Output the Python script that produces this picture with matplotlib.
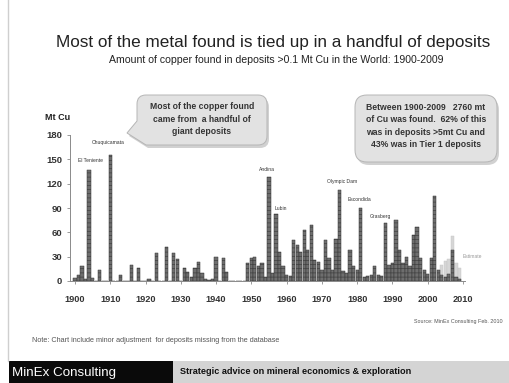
import matplotlib
matplotlib.use("Agg")
import matplotlib.pyplot as plt
import numpy as np
from matplotlib.patches import PathPatch, Rectangle
from matplotlib.path import Path
from matplotlib.transforms import Affine2D

plt.rcParams['font.family'] = ['Liberation Sans', 'DejaVu Sans']
plt.rcParams['hatch.linewidth'] = 0.4

# copper found per year, Mt Cu, 1900-2009
years = np.arange(1900, 2010)
copper_mt = [
    4, 7, 18, 3, 137, 4, 0, 13, 0, 0,          # 1900s
    155, 0, 0, 7, 0, 0, 20, 0, 16, 0,          # 1910s
    0, 3, 0, 34, 0, 0, 42, 0, 34, 27,          # 1920s
    0, 16, 11, 5, 16, 23, 10, 2, 1, 2,         # 1930s
    29, 0, 28, 11, 0, 0, 0, 0, 0, 22,          # 1940s
    28, 30, 18, 22, 5, 128, 10, 83, 36, 18,    # 1950s
    8, 6, 50, 44, 36, 63, 38, 69, 26, 24,      # 1960s
    13, 50, 28, 13, 52, 112, 12, 10, 38, 18,   # 1970s
    14, 90, 5, 6, 8, 18, 8, 6, 71, 20,         # 1980s
    22, 75, 38, 22, 30, 18, 57, 67, 28, 14,    # 1990s
    9, 28, 105, 14, 7, 5, 9, 38, 5, 2,         # 2000s
]
# estimated totals for recent years (light bars)
estimate_years = [2004, 2005, 2006, 2007, 2008, 2009]
estimate_mt = [20, 25, 27, 55, 22, 16]

# named deposits: label, year, label height
deposit_names = ['Chuquicamata', 'El Teniente', 'Andina', 'Lubin',
                 'Olympic Dam', 'Escondida', 'Grasberg']
deposit_x = [1909.4, 1904.5, 1954.4, 1958.3, 1975.6, 1980.8, 1986.6]
deposit_y = [171, 148, 138, 90, 123, 100, 79]

title = 'Most of the metal found is tied up in a handful of deposits'
subtitle = 'Amount of copper found in deposits >0.1 Mt Cu in the World: 1900-2009'
note1 = 'Most of the copper found\ncame from  a handful of\ngiant deposits'
note2 = ('Between 1900-2009   2760 mt\nof Cu was found.  62% of this\n'
         'was in deposits >5mt Cu and\n43% was in Tier 1 deposits')

W, H = 510, 383
fig = plt.figure(figsize=(W / 100, H / 100), dpi=100)
fig.patch.set_facecolor('white')

# chart axes
ax = fig.add_axes([70 / W, (H - 281) / H, (465 - 70) / W, 146 / H])
ax.set_facecolor('none')
ax.bar(estimate_years, estimate_mt, width=0.95, color='#d6d6d6', edgecolor='#c4c4c4',
       linewidth=0.3, zorder=1)
ax.bar(years, copper_mt, width=0.92, color='#6e6e6e', edgecolor='#353535',
       linewidth=0.35, hatch='----', zorder=2)
ax.set_xlim(1898.58, 2010.58)
ax.set_ylim(0, 180)
ax.set_yticks(np.arange(0, 181, 30))
ax.set_xticks(np.arange(1900, 2011, 10))
for side in ['top', 'right']:
    ax.spines[side].set_visible(False)
for side in ['left', 'bottom']:
    ax.spines[side].set_color('#8a8a8a')
    ax.spines[side].set_linewidth(0.7)
ax.tick_params(axis='y', length=2.5, width=0.6, color='#8a8a8a', pad=3,
               labelsize=6.8, labelcolor='#333333')
ax.tick_params(axis='x', length=2, width=0.6, color='#8a8a8a', pad=8,
               labelsize=6.6, labelcolor='#333333')
for lab in ax.get_xticklabels() + ax.get_yticklabels():
    lab.set_fontweight('bold')

for name, x, y in zip(deposit_names, deposit_x, deposit_y):
    ax.text(x, y, name, fontsize=3.6, color='#333333', ha='center', va='center')
ax.text(2012.8, 30, 'Estimate', fontsize=3.6, color='#9a9a9a', ha='center',
        va='center', clip_on=False)

# overlay in pixel coordinates for slide decorations
ov = fig.add_axes([0, 0, 1, 1], zorder=5)
ov.set_xlim(0, W)
ov.set_ylim(H, 0)
ov.axis('off')
ov.patch.set_alpha(0)

ov.plot([8.5, 8.5], [0, 361], color='#cfcfcf', lw=1.0)

ov.text(273, 43, title, fontsize=12.3, ha='center', va='center', color='#222222')
ov.text(276, 60, subtitle, fontsize=7.6, ha='center', va='center', color='#222222')
ov.text(45, 118, 'Mt Cu', fontsize=6.5, fontweight='bold', ha='left', va='center',
        color='#222222')


def bubble(x0, y0, x1, y1, r, tip=None, tail_top=None):
    verts = [(x0 + r, y0), (x1 - r, y0), (x1, y0), (x1, y0 + r),
             (x1, y1 - r), (x1, y1), (x1 - r, y1), (x0 + r, y1)]
    codes = [Path.MOVETO, Path.LINETO, Path.CURVE3, Path.CURVE3,
             Path.LINETO, Path.CURVE3, Path.CURVE3, Path.LINETO]
    if tip is not None:
        verts += [tip, (x0, tail_top), (x0, y0 + r)]
        codes += [Path.LINETO, Path.LINETO, Path.LINETO]
    else:
        verts += [(x0, y1), (x0, y1 - r), (x0, y0 + r)]
        codes += [Path.CURVE3, Path.CURVE3, Path.LINETO]
    verts += [(x0, y0), (x0 + r, y0), (x0 + r, y0)]
    codes += [Path.CURVE3, Path.CURVE3, Path.CLOSEPOLY]
    return Path(verts, codes)


bubbles = [((137, 95, 267, 145, 9), dict(tip=(127, 133), tail_top=121)),
           ((355, 95, 497, 162, 12), dict())]
for box, tail in bubbles:
    p = bubble(*box, **tail)
    shadow = PathPatch(p, fc='#9a9a9a', ec='none', alpha=0.45)
    shadow.set_transform(Affine2D().translate(2, 3) + ov.transData)
    ov.add_patch(shadow)
    ov.add_patch(PathPatch(p, fc='#e2e2e2', ec='#b5b5b5', lw=0.7))

ov.text(202, 119, note1, fontsize=6.2, fontweight='bold', ha='center', va='center',
        color='#333333', linespacing=1.45)
ov.text(426, 126, note2, fontsize=6.2, fontweight='bold', ha='center', va='center',
        color='#333333', linespacing=1.45)

ov.text(503, 322, 'Source: MinEx Consulting Feb. 2010', fontsize=3.9, ha='right',
        va='center', color='#555555')
ov.text(32, 341, 'Note: Chart include minor adjustment  for deposits missing from the database',
        fontsize=5.2, ha='left', va='center', color='#555555')

# footer band
ov.add_patch(Rectangle((173, 361), W - 173, 22, fc='#d4d4d4', ec='none'))
ov.add_patch(Rectangle((9, 361), 164, 22, fc='#0a0a0a', ec='none'))
ov.text(12, 373, 'MinEx Consulting', fontsize=9.6, color='white', ha='left', va='center')
ov.text(180, 372, 'Strategic advice on mineral economics & exploration', fontsize=6.6,
        fontweight='bold', color='#111111', ha='left', va='center')

fig.savefig('out.png', dpi=100)
